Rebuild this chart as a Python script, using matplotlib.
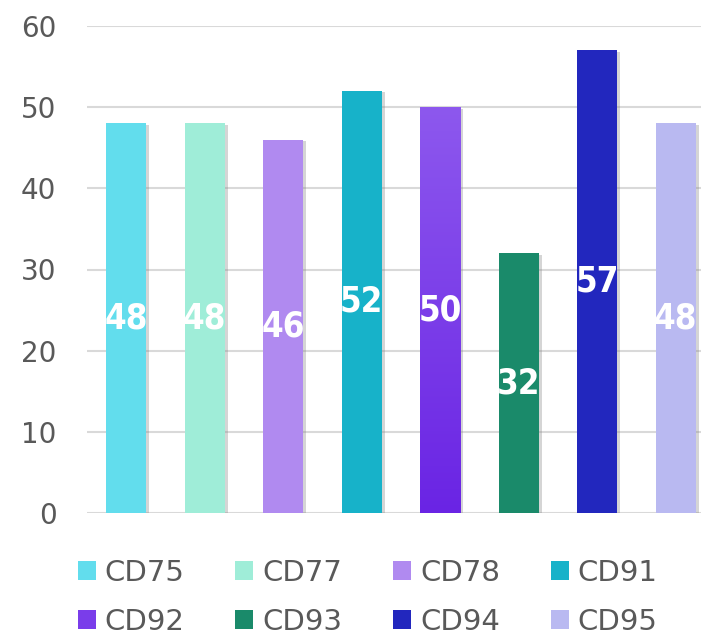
import numpy as np
import matplotlib
matplotlib.use('Agg')
import matplotlib.pyplot as plt
import matplotlib.patheffects as pe
from matplotlib.patches import Patch

categories = ['CD75', 'CD77', 'CD78', 'CD91', 'CD92', 'CD93', 'CD94', 'CD95']
values = [48, 48, 46, 52, 50, 32, 57, 48]
colors = ['#62DDED', '#9FEDD8', '#B08AF0', '#17B2C9', '#7A3DEA', '#1A8A6A', '#2227BE', '#B9B9F1']
gradient_top = '#8D58EE'
gradient_bottom = '#6A24E4'
yticks = [0, 10, 20, 30, 40, 50, 60]

fig = plt.figure(figsize=(7.01, 6.34), dpi=100)
ax = fig.add_axes([87 / 701, 121 / 634, 628 / 701, 487 / 634])

x = np.arange(len(categories))
shadow = [pe.SimplePatchShadow(offset=(2, -1), shadow_rgbFace='#888888', alpha=0.35), pe.Normal()]
bars = ax.bar(x, values, width=0.51, color=colors, zorder=3, path_effects=shadow)

# gradient fill for CD92
b = bars[4]
b.set_facecolor('none')
grad = np.linspace(0, 1, 256).reshape(-1, 1)
cmap = matplotlib.colors.LinearSegmentedColormap.from_list('g', [gradient_bottom, gradient_top])
im = ax.imshow(grad, cmap=cmap, origin='lower', aspect='auto', zorder=3.5,
               extent=[b.get_x(), b.get_x() + b.get_width(), 0, b.get_height()])
im.set_clip_path(b)
ax.set_xlim(-0.5, len(categories) - 0.5)
ax.set_ylim(0, 60)

for xi, v in zip(x, values):
    ax.text(xi, v / 2, str(v), ha='center', va='center', color='white',
            fontsize=25, fontweight='bold', fontstretch='condensed', zorder=5,
            family='DejaVu Sans')

ax.set_yticks(yticks)
ax.set_xticks([])
ax.yaxis.grid(True, color='#D9D9D9', linewidth=1.5, zorder=0)
ax.set_axisbelow(True)
for s in ax.spines.values():
    s.set_visible(False)
ax.tick_params(axis='y', length=0, pad=22, labelsize=20, labelcolor='#595959')

handles = [Patch(facecolor=c) for c in colors]
order = [0, 4, 1, 5, 2, 6, 3, 7]
fig.legend([handles[i] for i in order], [categories[i] for i in order],
           loc='lower left', bbox_to_anchor=(60 / 701, -0.03), ncol=4, frameon=False,
           fontsize=21, labelcolor='#595959', handlelength=0.62, handleheight=0.62,
           handletextpad=0.3, columnspacing=1.75, labelspacing=0.72, borderaxespad=0.2)

fig.savefig('out.png', dpi=100)
